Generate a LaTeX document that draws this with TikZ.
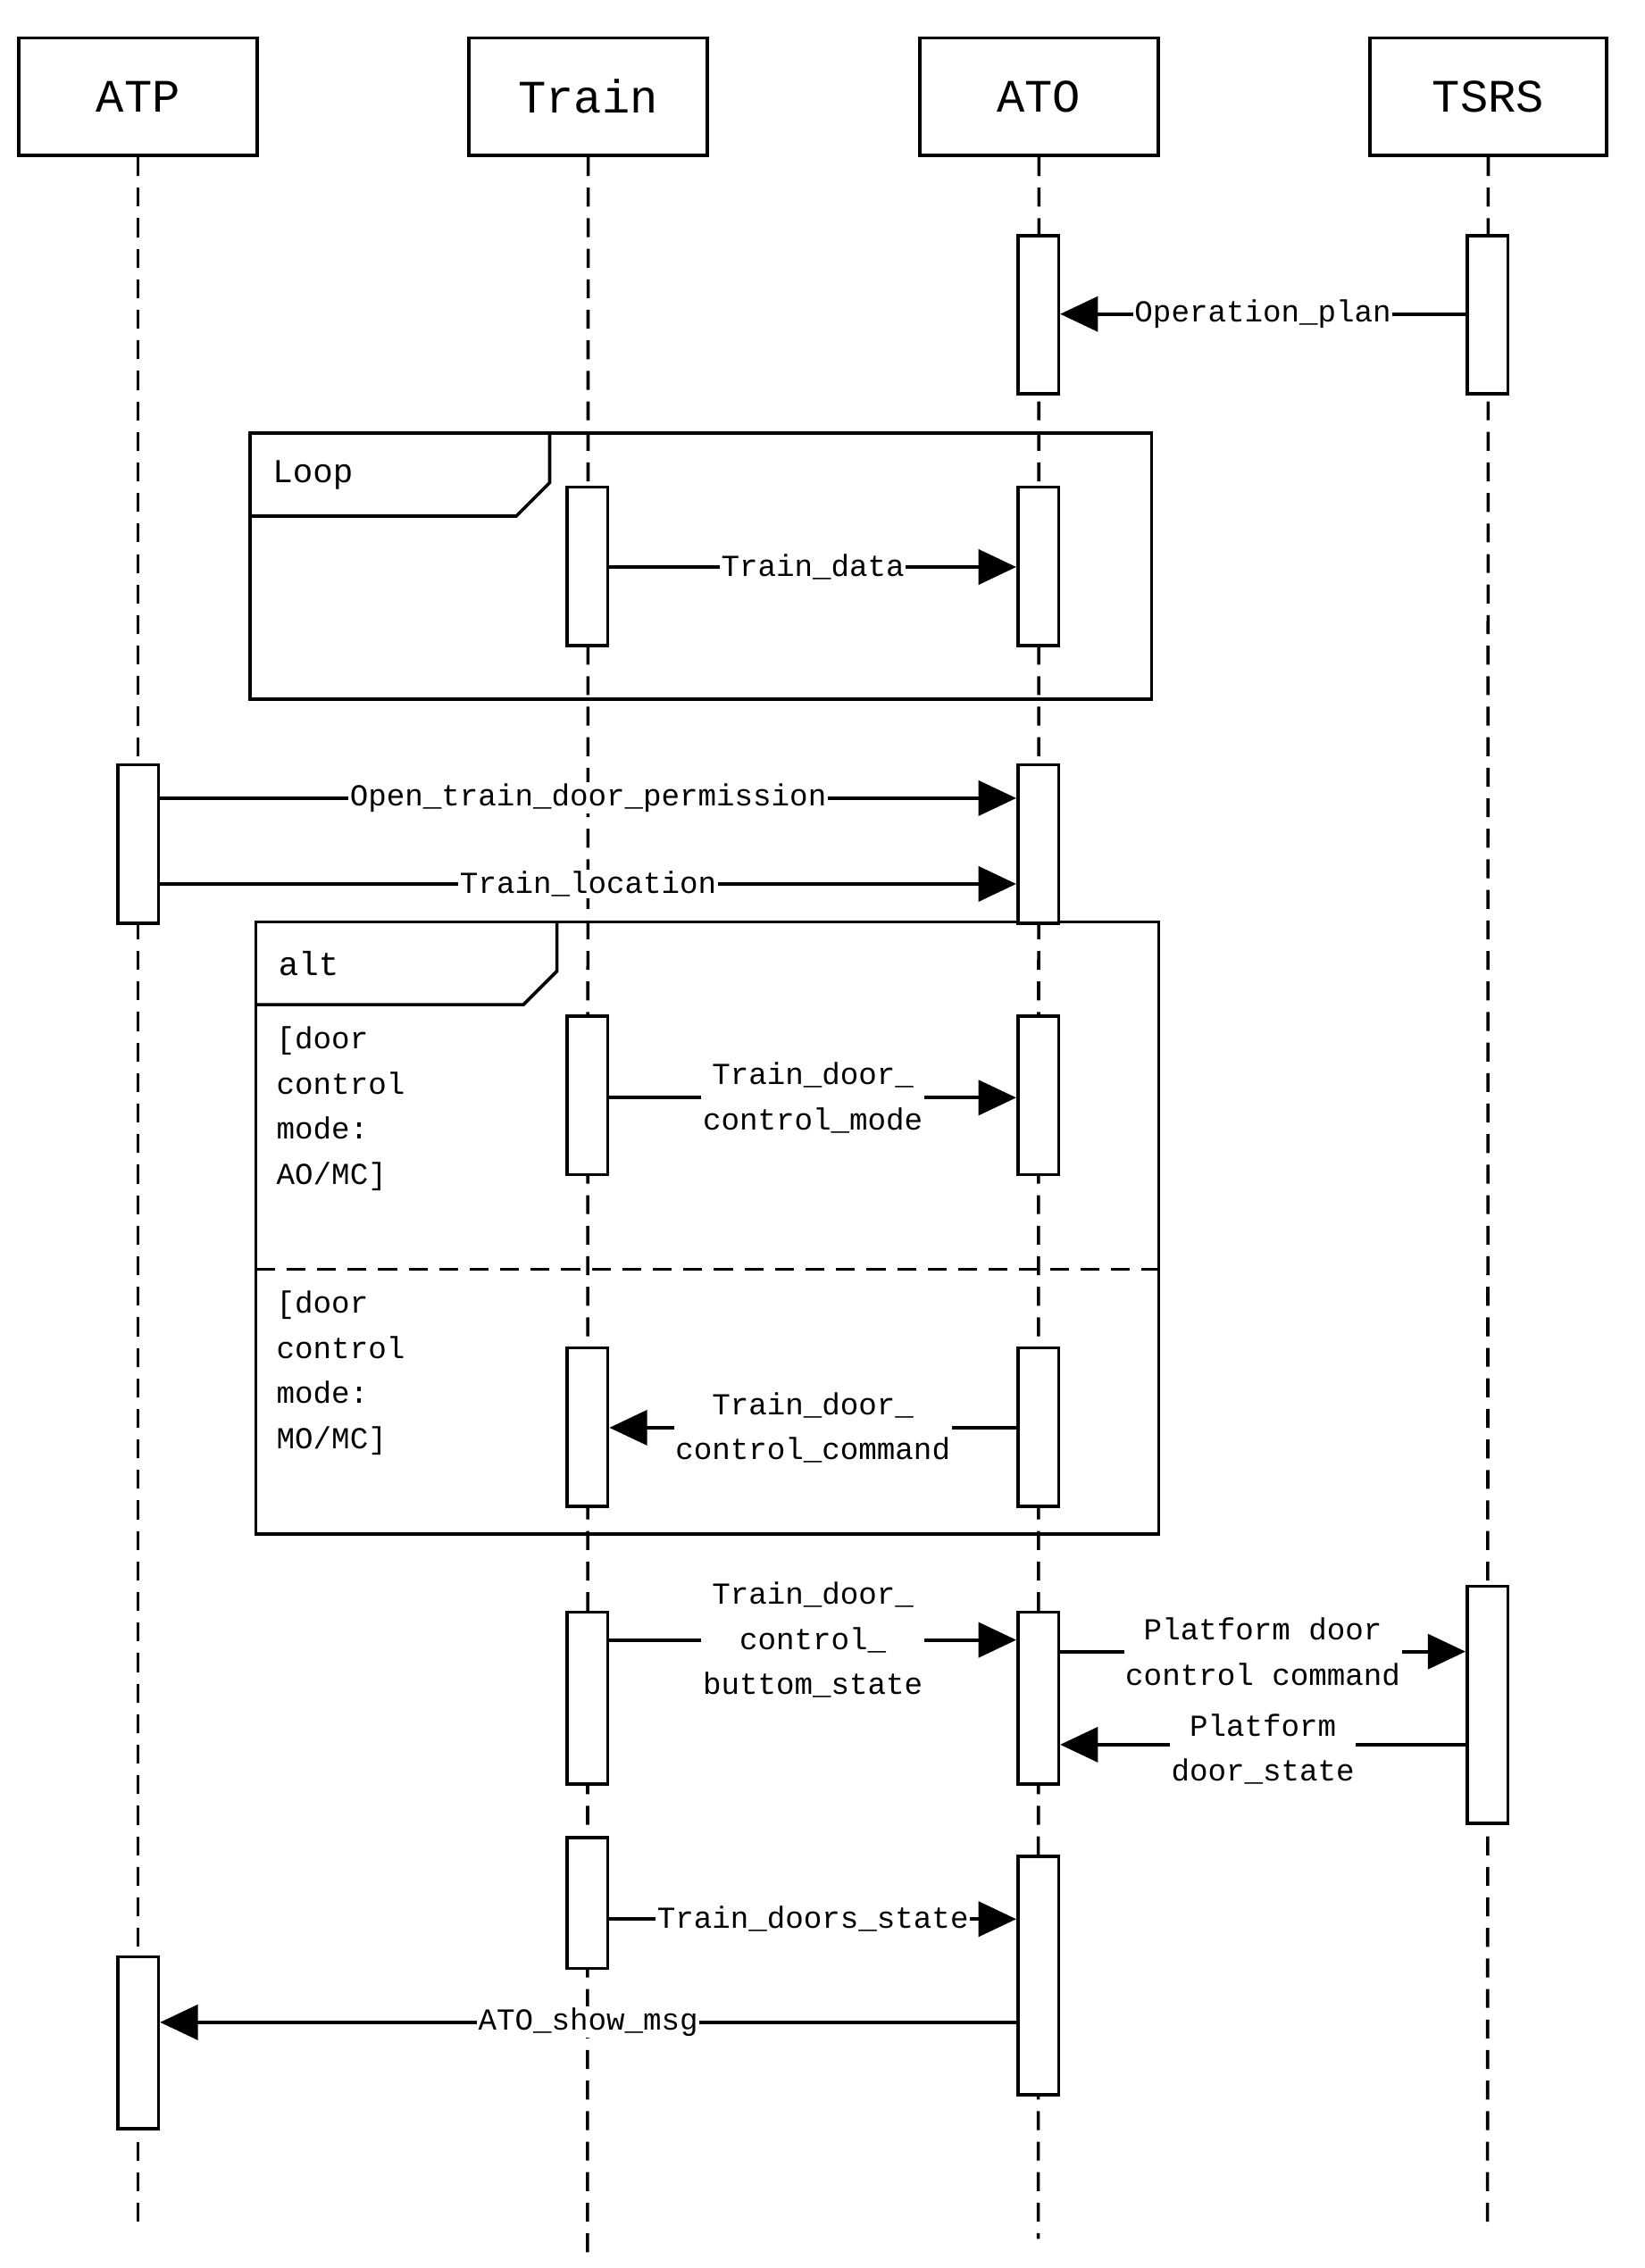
\documentclass[tikz,border=0pt]{standalone}
\usepackage{fontspec}
\setmainfont{Liberation Mono}
\usetikzlibrary{arrows.meta}
\begin{document}
\begin{tikzpicture}[x=1pt,y=-1pt,
  head/.style={draw,line width=2.2pt,minimum width=164pt,minimum height=81pt,inner sep=0pt,font=\fontsize{32}{36}\selectfont},
  life/.style={line width=2.2pt,dash pattern=on 13pt off 8pt},
  act/.style={draw,fill=white,line width=2.2pt,minimum width=28pt,inner sep=0pt},
  msg/.style={line width=2.4pt,-{Triangle[length=26pt,width=24pt]}},
  lab/.style={fill=white,inner sep=1pt,align=center,font=\fontsize{21}{31}\selectfont},
  frame/.style={draw,line width=2.2pt},
  guard/.style={align=left,anchor=north west,inner sep=0pt,font=\fontsize{21}{31}\selectfont}]
\useasboundingbox (0,0) rectangle (1131,1560);
% headers
\node[head] (hATP) at (95,66.5) {ATP};
\node[head] (hTrain) at (404.5,66.5) {Train};
\node[head] (hATO) at (714.5,66.5) {ATO};
\node[head,minimum width=163pt] (hTSRS) at (1023.5,66.5) {TSRS};
\coordinate (eATP) at (95,1530);
\coordinate (eTrain) at (404,1555);
\coordinate (eATO) at (714,1540);
\coordinate (eTSRS) at (1023,1530);
\draw[life] (hATP) -- (eATP);
\draw[life] (hTrain) -- (eTrain);
\draw[life] (hATO) -- (eATO);
\draw[life] (hTSRS) -- (eTSRS);
% frames
\draw[frame] (172,298) rectangle (792,481);
\draw[frame] (172,355) -- (355,355) -- (378,332) -- (378,298);
\node[anchor=west,font=\fontsize{23}{26}\selectfont] (loop) at (184,327) {Loop};
\draw[frame] (176,634) rectangle (797,1055);
\draw[frame] (176,691) -- (360,691) -- (383,668) -- (383,634);
\node[anchor=west,font=\fontsize{23}{26}\selectfont] (alt) at (188,663) {alt};
\draw[line width=2.2pt,dash pattern=on 13pt off 8pt] (176,873) -- (797,873);
\node[guard] (g1) at (190,706) {[door\\control\\mode:\\AO/MC]};
\node[guard] (g2) at (190,888) {[door\\control\\mode:\\MO/MC]};
% activations
\node[act,minimum height=109pt] (o1) at (714,216.5) {};
\node[act,minimum height=109pt] (s1) at (1023,216.5) {};
\node[act,minimum height=109pt] (t2) at (404,389.5) {};
\node[act,minimum height=109pt] (o2) at (714,389.5) {};
\node[act,minimum height=109pt] (p3) at (95,580.5) {};
\node[act,minimum height=109pt] (o3) at (714,580.5) {};
\node[act,minimum height=109pt] (t4) at (404,753.5) {};
\node[act,minimum height=109pt] (o4) at (714,753.5) {};
\node[act,minimum height=109pt] (t5) at (404,981.5) {};
\node[act,minimum height=109pt] (o5) at (714,981.5) {};
\node[act,minimum height=118pt] (t6) at (404,1168) {};
\node[act,minimum height=118pt] (o6) at (714,1168) {};
\node[act,minimum height=163pt] (s6) at (1023,1172.5) {};
\node[act,minimum height=90pt] (t7) at (404,1309) {};
\node[act,minimum height=164pt] (o7) at (714,1359) {};
\node[act,minimum height=118pt] (p7) at (95,1405) {};
% message levels
\foreach \n/\y in {m1/216,m2/390,m3/549,m4/608,m5/755,m6/982,m7/1128,m8/1136,m9/1200,m10/1320,m11/1391}
  \coordinate (\n) at (0,\y);
\draw[msg] (s1.west |- m1) -- node[lab]{Operation\_plan} (o1.east |- m1);
\draw[msg] (t2.east |- m2) -- node[lab]{Train\_data} (o2.west |- m2);
\draw[msg] (p3.east |- m3) -- node[lab]{Open\_train\_door\_permission} (o3.west |- m3);
\draw[msg] (p3.east |- m4) -- node[lab]{Train\_location} (o3.west |- m4);
\draw[msg] (t4.east |- m5) -- node[lab]{Train\_door\_\\control\_mode} (o4.west |- m5);
\draw[msg] (o5.west |- m6) -- node[lab]{Train\_door\_\\control\_command} (t5.east |- m6);
\draw[msg] (t6.east |- m7) -- node[lab]{Train\_door\_\\control\_\\buttom\_state} (o6.west |- m7);
\draw[msg] (o6.east |- m8) -- node[lab]{Platform door\\control command} (s6.west |- m8);
\draw[msg] (s6.west |- m9) -- node[lab,yshift=-3pt]{Platform\\door\_state} (o6.east |- m9);
\draw[msg] (t7.east |- m10) -- node[lab]{Train\_doors\_state} (o7.west |- m10);
\draw[msg] (o7.west |- m11) -- node[lab]{ATO\_show\_msg} (p7.east |- m11);
\end{tikzpicture}
\end{document}
